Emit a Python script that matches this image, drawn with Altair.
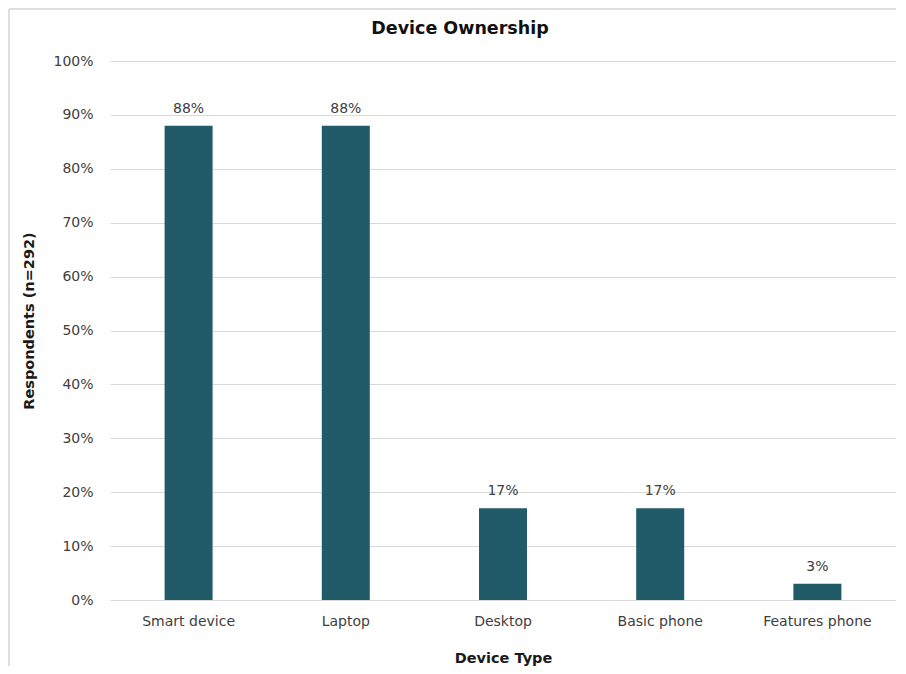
import altair as alt
import pandas as pd

categories = ["Smart device", "Laptop", "Desktop", "Basic phone", "Features phone"]
values = [0.88, 0.88, 0.17, 0.17, 0.03]
labels = ["88%", "88%", "17%", "17%", "3%"]
chart_title = "Device Ownership"

df = pd.DataFrame({"device": categories, "share": values, "label": labels})
one = pd.DataFrame({"t": [chart_title]})

FONT = "DejaVu Sans"
W, H = 786, 539

x_enc = alt.X("device:N", sort=categories, title="Device Type",
              scale=alt.Scale(paddingInner=0, paddingOuter=0),
              axis=alt.Axis(labelAngle=0, ticks=False, domain=False, labelPadding=14,
                            labelFontSize=14, labelColor="#404040", labelFont=FONT,
                            titleFont=FONT, titleFontSize=14.5, titleFontWeight="bold",
                            titleColor="#1a1a1a", titleY=51))
y_enc = alt.Y("share:Q", title="Respondents (n=292)",
              scale=alt.Scale(domain=[0, 1]),
              axis=alt.Axis(format=".0%", values=[i / 10 for i in range(11)],
                            ticks=False, domain=False, labelPadding=17,
                            labelFontSize=14, labelColor="#404040", labelFont=FONT,
                            gridColor="#d9d9d9", gridWidth=1,
                            titleFont=FONT, titleFontSize=14.5, titleFontWeight="bold",
                            titleColor="#1a1a1a", titleX=-74, titleY=H / 2 - 10))

base = alt.Chart(df).encode(x=x_enc, y=y_enc)
bars = base.mark_bar(size=48, color="#215a69")
text = base.mark_text(dy=-17, fontSize=14, font=FONT, color="#404040").encode(text="label:N")

title = alt.Chart(one).mark_text(font=FONT, fontSize=17.5, fontWeight="bold", color="#111111",
                                 baseline="middle", align="center").encode(
    x=alt.value(350), y=alt.value(-32), text="t:N")

left_rule = alt.Chart(one).mark_rule(color="#d4d4d4", strokeWidth=1.5).encode(
    x=alt.value(-101), y=alt.value(-52), y2=alt.value(H + 66))
top_rule = alt.Chart(one).mark_rule(color="#d4d4d4", strokeWidth=1.5).encode(
    x=alt.value(-101), x2=alt.value(W), y=alt.value(-52))

chart = alt.layer(left_rule, top_rule, bars, text, title).properties(
    width=W, height=H,
    autosize="none",
    padding={"left": 102, "top": 53, "right": 0, "bottom": 66},
).configure(background="white").configure_view(stroke=None)

chart.save("out.html", embed_options={"renderer": "svg", "actions": False})
